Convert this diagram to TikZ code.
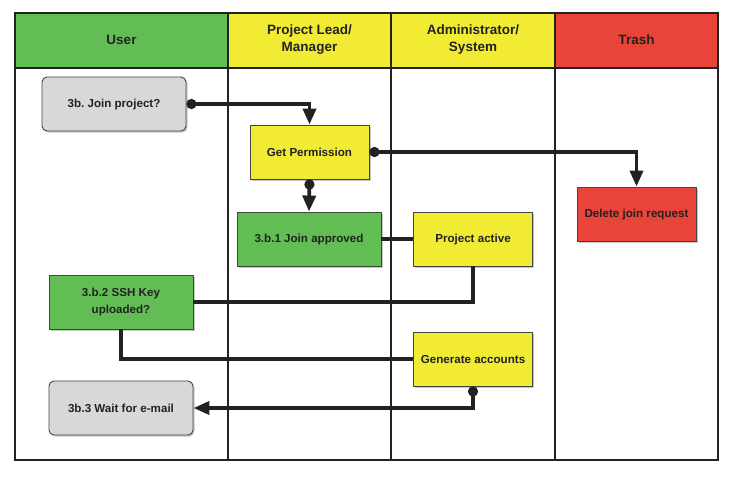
\documentclass[tikz,border=0pt]{standalone}
\usepackage{fontspec}
\setmainfont{Liberation Sans}
\usetikzlibrary{arrows.meta,shadows}
\frenchspacing
\definecolor{lgreen}{RGB}{98,190,84}
\definecolor{lyellow}{RGB}{242,235,52}
\definecolor{lred}{RGB}{233,68,58}
\definecolor{lgray}{RGB}{216,216,216}
\definecolor{ink}{RGB}{34,34,34}
\tikzset{
  frame/.style={draw=ink, line width=1.1pt},
  hdr/.style={font=\fontsize{13.5}{17}\selectfont\bfseries, text=ink, align=center},
  box/.style={draw=ink!85, line width=0.9pt, minimum width=119pt, minimum height=54pt,
    inner sep=2pt, align=center, text=ink, font=\fontsize{11.6}{17}\selectfont\bfseries,
    drop shadow={shadow xshift=1.5pt, shadow yshift=-1.5pt, opacity=0.45}},
  wide/.style={minimum width=144pt},
  rbox/.style={box, wide, rounded corners=5pt, fill=lgray},
  conn/.style={draw=ink, line width=3.8pt},
  dotarrow/.style={{Circle[length=10pt]}-{Triangle[width=13pt,length=16pt]}}
}
\begin{document}
\begin{tikzpicture}[x=1pt,y=-1pt]
\useasboundingbox (0,0) rectangle (733,477);
% header fills
\fill[lgreen] (15,13) rectangle (228,68);
\fill[lyellow] (228,13) rectangle (391,68);
\fill[lyellow] (391,13) rectangle (555,68);
\fill[lred] (555,13) rectangle (718,68);
% frame and lanes
\draw[frame] (15,13) rectangle (718,460);
\draw[frame] (15,68) -- (718,68);
\draw[frame] (228,13) -- (228,460);
\draw[frame] (391,13) -- (391,460);
\draw[frame] (555,13) -- (555,460);
% headers
\node[hdr] (h1) at (121.5,40) {User};
\node[hdr] (h2) at (309.5,40) {Project Lead/\\Manager};
\node[hdr] (h3) at (473,40) {Administrator/\\System};
\node[hdr] (h4) at (636.5,40) {Trash};
% nodes
\node[rbox] (jp) at (114,104) {3b. Join project?};
\node[box, fill=lyellow] (gp) at (309.5,152) {Get Permission};
\node[box, wide, fill=lgreen] (ja) at (309,239) {3.b.1 Join approved};
\node[box, fill=lyellow] (pa) at (473,239) {Project active};
\node[box, fill=lred] (dj) at (636.5,214) {Delete join request};
\node[box, wide, fill=lgreen] (ssh) at (121,302) {3.b.2 SSH Key\\uploaded?};
\node[box, fill=lyellow] (ga) at (473,359) {Generate accounts};
\node[rbox] (wm) at (121,408) {3b.3 Wait for e-mail};
% connectors
\draw[conn, dotarrow] (jp.east) -| (gp.north);
\draw[conn, dotarrow] (gp.east) -| (dj.north);
\draw[conn, dotarrow] (gp.south) -- (ja.north);
\draw[conn] (ja.east) -- (pa.west);
\draw[conn] (ssh.east) -| (pa.south);
\draw[conn] (ssh.south) |- (ga.west);
\draw[conn, dotarrow] (ga.south) |- (wm.east);
\end{tikzpicture}
\end{document}
